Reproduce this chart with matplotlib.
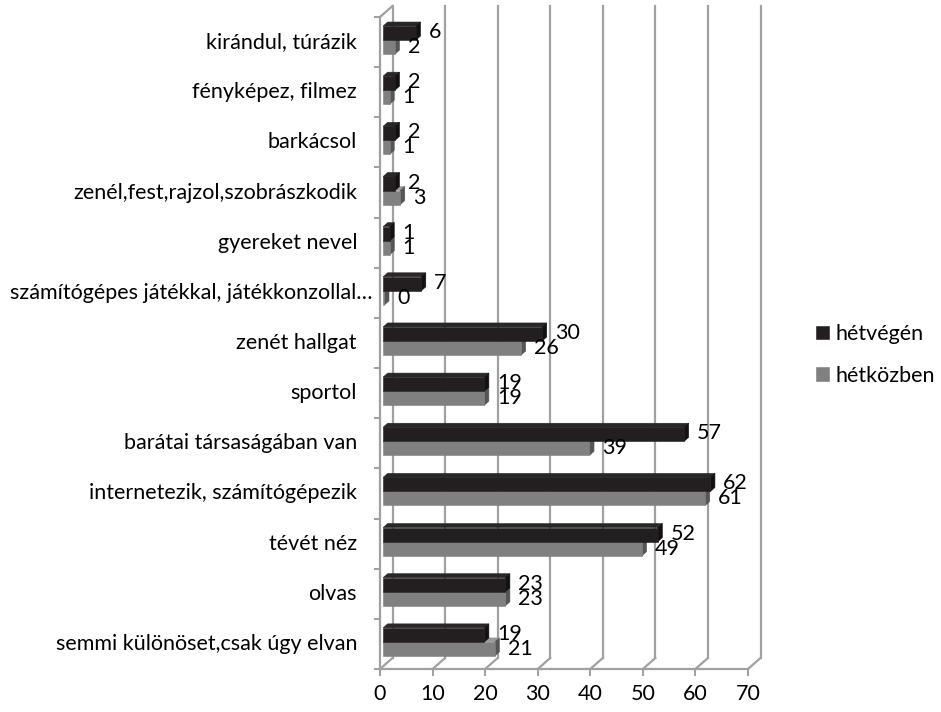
import matplotlib
matplotlib.use('Agg')
import matplotlib.pyplot as plt
import matplotlib.transforms as mtransforms
import numpy as np

plt.rcParams['font.family'] = ['Lato', 'DejaVu Sans']

# categories from bottom to top (as drawn)
categories = ['semmi különöset,csak úgy elvan', 'olvas', 'tévét néz',
              'internetezik, számítógépezik', 'barátai társaságában van',
              'sportol', 'zenét hallgat',
              'számítógépes játékkal, játékkonzollal…', 'gyereket nevel',
              'zenél,fest,rajzol,szobrászkodik', 'barkácsol',
              'fényképez, filmez', 'kirándul, túrázik']
hetvegen = [19, 23, 52, 62, 57, 19, 30, 7, 1, 2, 2, 2, 6]
hetkozben = [21, 23, 49, 61, 39, 19, 26, 0, 1, 3, 1, 1, 2]
xticks = [0, 10, 20, 30, 40, 50, 60, 70]

W, H = 941, 712
fig = plt.figure(figsize=(W / 100, H / 100), dpi=100)
ax = fig.add_axes([380 / W, 43 / H, 368 / W, 652 / H])
ax.set_xlim(0, 70)
ax.set_ylim(-0.5, len(categories) - 0.5)

grid_c = '#a0a0a0'
fs = 15.5
black = '#231f20'
gray = '#808080'

# depth of the back wall and of the bars (data units)
wall_dx, wall_dy = 12.5 / 5.257, 11 / 50.15
bar_dx, bar_dy = 0.86, 0.08

ytop = len(categories) - 0.5
for v in xticks:
    ax.plot([v + wall_dx, v + wall_dx], [-0.5 + wall_dy, ytop + wall_dy],
            color=grid_c, lw=1.6, clip_on=False, zorder=1)
    ax.plot([v, v + wall_dx], [-0.5, -0.5 + wall_dy],
            color=grid_c, lw=1.6, clip_on=False, zorder=1)
ax.plot([0, wall_dx], [ytop, ytop + wall_dy], color=grid_c, lw=1.6,
        clip_on=False, zorder=1)

for s in ['top', 'right']:
    ax.spines[s].set_visible(False)
for s in ['left', 'bottom']:
    ax.spines[s].set_color(grid_c)
    ax.spines[s].set_linewidth(1.6)
    ax.spines[s].set_zorder(2)

ax.set_xticks(xticks)
ax.set_xticklabels([str(t) for t in xticks], fontsize=fs)
ax.tick_params(axis='x', direction='out', length=5, width=1.4, color=grid_c,
               pad=6)
ax.set_yticks(np.arange(-0.5, len(categories), 1.0))
ax.set_yticklabels([])
ax.tick_params(axis='y', direction='out', length=4.5, width=1.4, color=grid_c)
ax.set_facecolor('none')

y = np.arange(len(categories))
h = 0.28
yg = y - 0.1
yb = y + 0.18
x0 = 0.6

def side_and_top(vals, yc, c_side, c_top):
    for v, c in zip(vals, yc):
        x1 = v + 0.85
        lo, hi = c - h / 2, c + h / 2
        ax.fill([x0, x0 + bar_dx, x1 + bar_dx, x1], [hi, hi + bar_dy, hi + bar_dy, hi],
                facecolor=c_top, edgecolor=c_top, lw=0.4, zorder=3, clip_on=False)
        ax.fill([x1, x1 + bar_dx, x1 + bar_dx, x1], [lo, lo + bar_dy, hi + bar_dy, hi],
                facecolor=c_side, edgecolor=c_side, lw=0.4, zorder=3, clip_on=False)

side_and_top(hetkozben, yg, '#555555', '#9a9a9a')
b2 = ax.barh(yg, np.array(hetkozben) + 0.25, left=x0, height=h, color=gray,
             edgecolor=gray, linewidth=0.4, zorder=4, label='hétközben')
side_and_top(hetvegen, yb, '#111111', '#2a2627')
b1 = ax.barh(yb, np.array(hetvegen) + 0.25, left=x0, height=h, color=black,
             edgecolor=black, linewidth=0.4, zorder=5, label='hétvégén')

for v, c in zip(hetvegen, y):
    ax.text(v + 3.3, c + 0.2, str(v), fontsize=fs, va='center', ha='left',
            zorder=6)
for v, c in zip(hetkozben, y):
    ax.text(v + 3.3, c - 0.1, str(v), fontsize=fs, va='center', ha='left',
            zorder=6)

trans = mtransforms.blended_transform_factory(ax.transAxes, ax.transData)
for lab, c in zip(categories, y):
    xa = -0.022 if lab.endswith('…') else -0.0625
    ax.text(xa, c, lab, fontsize=fs, va='center', ha='right', transform=trans)

fig.legend(handles=[b1, b2], loc='center left',
           bbox_to_anchor=(797 / W, 1 - 355 / H), frameon=False,
           fontsize=fs, handlelength=0.6, handleheight=0.6,
           handletextpad=0.3, labelspacing=1.0)

fig.savefig('out.png', dpi=100)
